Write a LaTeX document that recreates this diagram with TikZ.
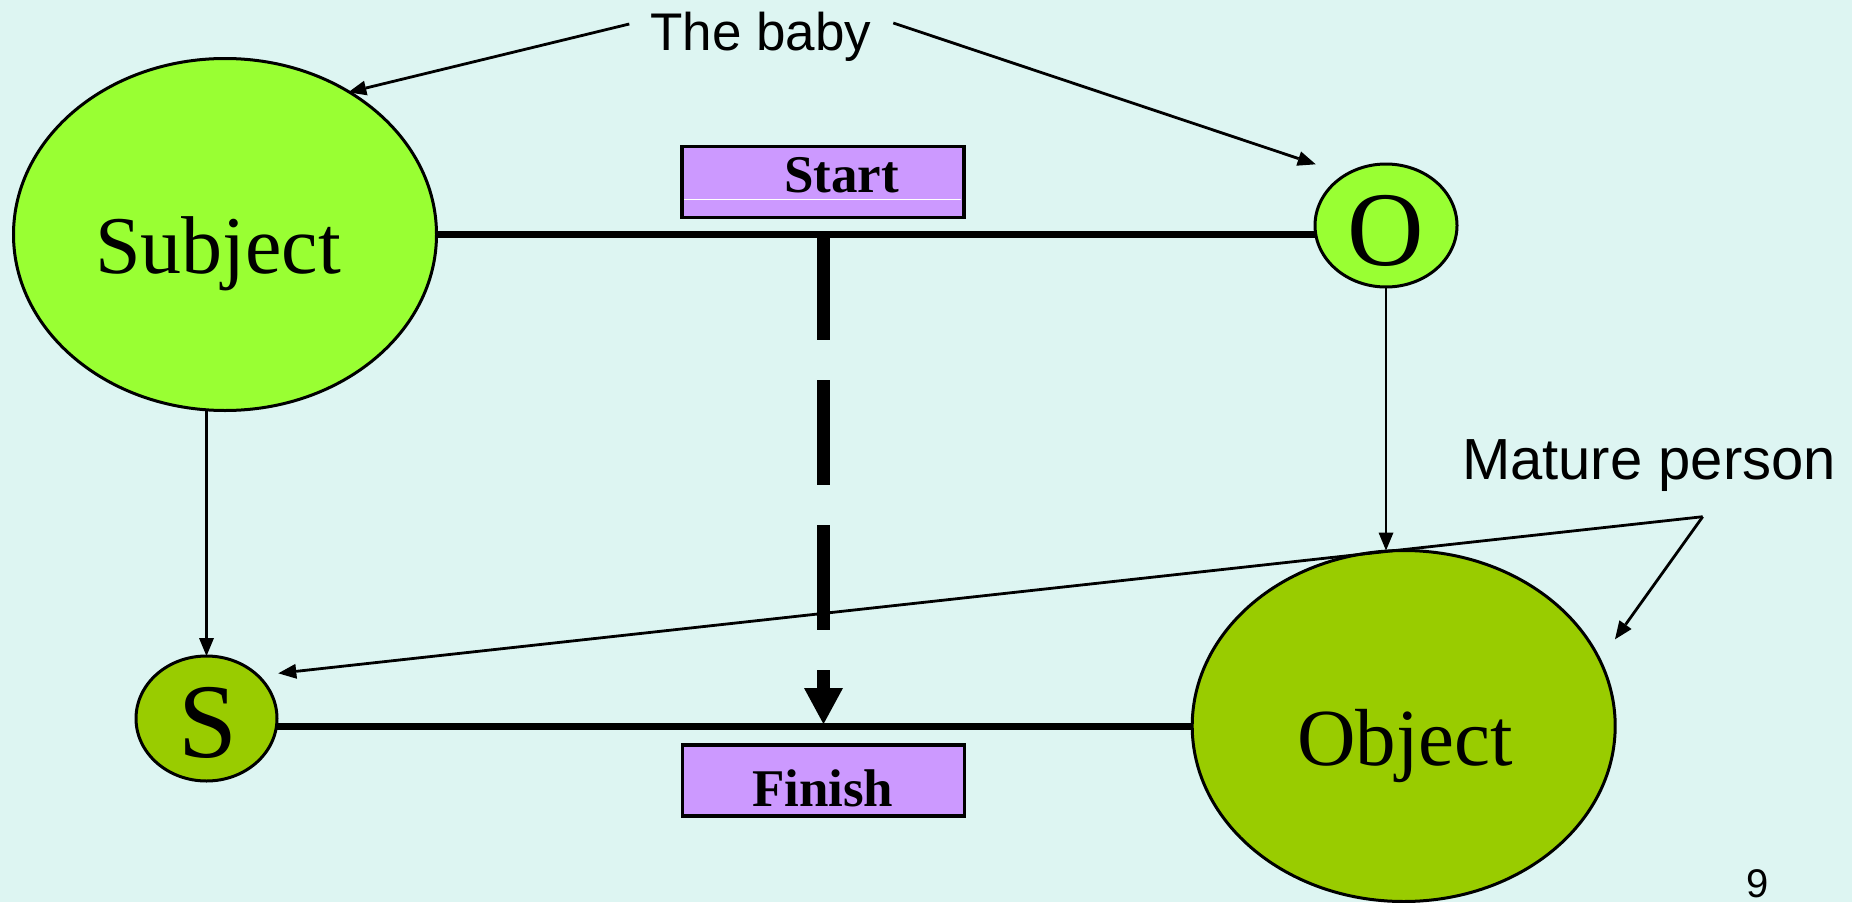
\documentclass[tikz,border=0pt]{standalone}
\usepackage{fontspec}
\setmainfont{Liberation Serif}
\newfontfamily\arialfont{Liberation Sans}
\usetikzlibrary{shapes.geometric,arrows.meta}
\definecolor{bgc}{HTML}{DDF5F2}
\definecolor{lightgreen}{HTML}{99FF33}
\definecolor{darkgreen}{HTML}{99CC00}
\definecolor{boxc}{HTML}{CC99FF}
\tikzset{
  ell/.style={ellipse, draw=black, line width=3pt, inner sep=0pt, outer sep=0pt},
  labelbox/.style={rectangle, draw=black, line width=3.5pt, fill=boxc, inner sep=0pt, outer sep=0pt,
    minimum width=282pt, minimum height=71pt},
  thickline/.style={line width=7pt},
  thinarrow/.style={line width=2.8pt, -{Triangle[length=18pt,width=15pt,line width=0pt]}},
  bigdash/.style={line width=13pt, dash pattern=on 105pt off 40pt,
    -{Triangle[length=36pt,width=39pt,line width=0pt]}},
  serif/.style={inner sep=0pt, anchor=base},
  sans/.style={inner sep=0pt, anchor=base, font=\arialfont\fontsize{53}{60}\selectfont},
}
\begin{document}
\begin{tikzpicture}[x=1pt,y=-1pt]
\fill[bgc] (0,0) rectangle (1852,902);
\useasboundingbox (0,0) rectangle (1852,902);

% shapes
\node[ell, fill=lightgreen, minimum width=423pt, minimum height=352pt] (subj) at (225,234.5) {};
\node[ell, fill=lightgreen, minimum width=142pt, minimum height=123pt] (O) at (1386,225.5) {};
\node[ell, fill=darkgreen, minimum width=141pt, minimum height=125pt] (S) at (206.5,718.5) {};
\node[ell, fill=darkgreen, minimum width=423pt, minimum height=351pt] (obj) at (1403.7,726) {};
\node[labelbox] (start) at (822.9,181.9) {};
\node[labelbox] (finish) at (823.5,780.5) {};
\draw[white, line width=1.5pt] ([xshift=2.5pt]start.west |- 0,199.3) -- ([xshift=-2.5pt]start.east |- 0,199.3);

% coordinates for free ends
\coordinate (dtop) at (823.5,235);
\coordinate (dbot) at (823.5,724);
\coordinate (bL) at (629.3,24);
\coordinate (bR) at (893.3,23);
\coordinate (bS) at (348.3,92.3);
\coordinate (bO) at (1315.7,164.3);
\coordinate (mp) at (1702.7,516.7);
\coordinate (mpS) at (278.3,673.3);
\coordinate (mpO) at (1615,639.3);

% connectors
\draw[thickline] (subj.east) -- (subj.east -| O.west);
\draw[thickline] (obj.west) -- (obj.west -| S.east);
\draw[thinarrow] (S.north |- subj.south) -- (S.north);
\draw[thinarrow] (O.south) -- (O.south |- obj.north);
\draw[thinarrow] (bL) -- (bS);
\draw[thinarrow] (bR) -- (bO);
\draw[thinarrow] (mp) -- (mpS);
\draw[thinarrow] (mp) -- (mpO);
\draw[bigdash] (dtop) -- (dbot);

% texts
\node[serif, font=\fontsize{82}{90}\selectfont] (subjtxt) at (218,273.3) {Subject};
\node[serif, font=\fontsize{81}{90}\selectfont] (objtxt) at (1405,765) {Object};
\node[serif, font=\fontsize{106}{110}\selectfont] (Otxt) at (1386,265) {O};
\node[serif, font=\fontsize{106}{110}\selectfont] (Stxt) at (207.5,757) {S};
\node[serif, font=\bfseries\fontsize{53}{60}\selectfont] (starttxt) at (841.7,192.7) {Start};
\node[serif, font=\bfseries\fontsize{53}{60}\selectfont] (finishtxt) at (822.7,806.7) {Finish};
\node[sans] (baby) at (761,50) {The baby};
\node[sans, font=\arialfont\fontsize{58}{64}\selectfont] (mature) at (1649,479.3) {Mature person};
\node[sans, font=\arialfont\fontsize{40}{46}\selectfont] (page) at (1758,897) {9};
\end{tikzpicture}
\end{document}
